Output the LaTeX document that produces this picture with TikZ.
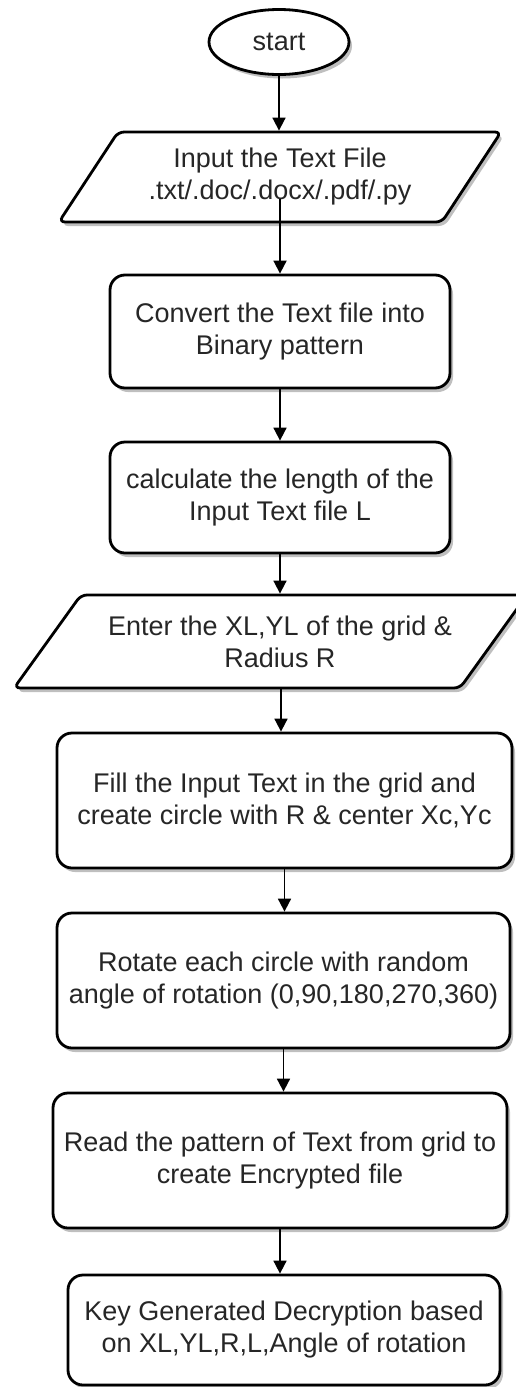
\documentclass[tikz,border=0pt]{standalone}
\usepackage{fontspec}
\setmainfont{Liberation Sans}
\usetikzlibrary{shapes.geometric,arrows.meta,shadows}
\begin{document}
\begin{tikzpicture}[x=1pt,y=1pt,
    every node/.style={font=\fontsize{27}{32}\selectfont,text=black!85},
    boxshadow/.style={drop shadow={shadow xshift=3pt,shadow yshift=-4pt,opacity=0.45,fill=black!55}},
    term/.style={ellipse,draw,line width=2.8pt,fill=white,minimum width=140pt,minimum height=65pt,inner sep=0pt,boxshadow},
    proc/.style={rectangle,rounded corners=15pt,draw,line width=2.8pt,fill=white,align=center,inner sep=0pt,boxshadow},
    io/.style={trapezium,trapezium stretches=true,draw,line width=2.8pt,fill=white,align=center,inner sep=0pt,rounded corners=6pt,boxshadow},
    flow/.style={line width=1.8pt,-{Triangle[width=13pt,length=13pt]}}]
    \path[use as bounding box,fill=white] (0,0) rectangle (516,-1387);
    % steps
    \node[term] (start) at (279,-42) {start};
    \node[io,trapezium left angle=50,trapezium right angle=130,minimum width=444pt,minimum height=90pt] (infile) at (280,-177) {Input the Text File\\.txt/.doc/.docx/.pdf/.py};
    \node[proc,minimum width=340pt,minimum height=113pt] (binary) at (280,-331.5) {Convert the Text file into\\Binary pattern};
    \node[proc,minimum width=340pt,minimum height=111pt] (length) at (280,-497.5) {calculate the length of the\\Input Text file L};
    \node[io,trapezium left angle=39,trapezium right angle=141,minimum width=515pt,minimum height=93pt] (grid) at (270.5,-641.5) {\hspace*{19pt}Enter the XL,YL of the grid \&\\\hspace*{19pt}Radius R};
    \node[proc,minimum width=455pt,minimum height=135pt] (fill) at (284.5,-800.5) {Fill the Input Text in the grid and\\create circle with R \& center Xc,Yc};
    \node[proc,minimum width=453pt,minimum height=135pt] (rotate) at (283.5,-980.5) {Rotate each circle with random\\angle of rotation (0,90,180,270,360)};
    \node[proc,minimum width=454pt,minimum height=135pt] (encrypt) at (280,-1160.5) {Read the pattern of Text from grid to\\create Encrypted file};
    \node[proc,minimum width=432pt,minimum height=110pt] (key) at (284,-1330) {Key Generated Decryption based\\on XL,YL,R,L,Angle of rotation};
    % arrows
    \draw[flow] (start.south) -- (start.south |- infile.north);
    \draw[flow] ([yshift=24pt]infile.south) -- (infile.south |- binary.north);
    \draw[flow] (binary.south) -- (length.north);
    \draw[flow] (length.south) -- (length.south |- grid.north);
    \draw[flow] ([xshift=-3.5pt]fill.north |- grid.south) -- ([xshift=-3.5pt]fill.north);
    \draw[flow] (fill.south) -- (fill.south |- rotate.north);
    \draw[flow] (rotate.south) -- (rotate.south |- encrypt.north);
    \draw[flow] (encrypt.south) -- (encrypt.south |- key.north);
\end{tikzpicture}
\end{document}
